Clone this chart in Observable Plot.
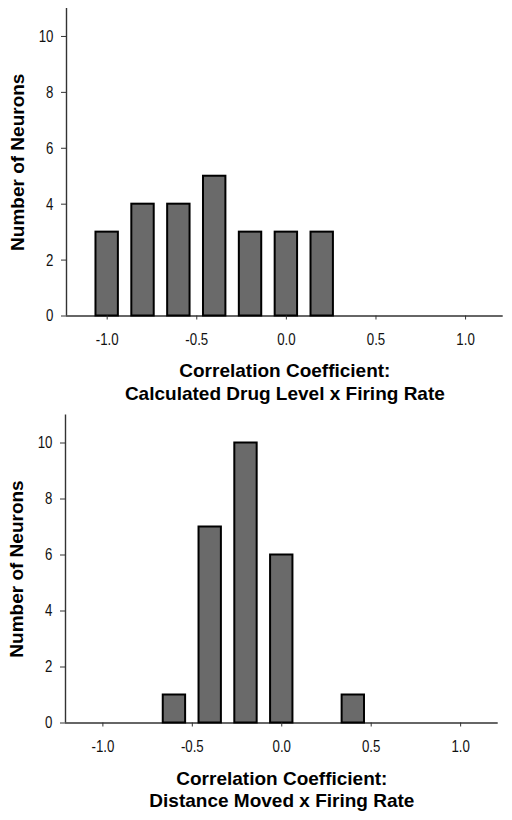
<!DOCTYPE html>
<html>
<head>
<meta charset="utf-8">
<script src="https://cdn.jsdelivr.net/npm/d3@7"></script>
<script src="https://cdn.jsdelivr.net/npm/@observablehq/plot@0.6"></script>
<style>
  html, body { margin: 0; padding: 0; background: #fff; }
  #chart svg { display: block; }
</style>
</head>
<body>
<div id="chart"></div>
<script>
// Bin centres of the correlation-coefficient histogram (bin width 0.2)
const binCenters = [-1.0, -0.8, -0.6, -0.4, -0.2, 0.0, 0.2, 0.4, 0.6, 0.8, 1.0];
// Number of neurons per bin
const drugLevelCounts = [3, 4, 4, 5, 3, 3, 3, 0, 0, 0, 0];
const distanceCounts  = [0, 0, 1, 7, 10, 6, 0, 1, 0, 0, 0];
// Axis ticks and labels
const xTicks = [-1.0, -0.5, 0.0, 0.5, 1.0];
const yTicks = [0, 2, 4, 6, 8, 10];
const xLabelLine1 = "Correlation Coefficient:";
const topXLabelLine2 = "Calculated Drug Level x Firing Rate";
const bottomXLabelLine2 = "Distance Moved x Firing Rate";
const yLabel = "Number of Neurons";
const barWidth = 0.125;

const tickFont = "'Liberation Sans', Arial, sans-serif";
const labelFont = "'Liberation Sans', Arial, sans-serif";

function histogram(counts, line2, o) {
  const data = binCenters.map((c, i) => ({center: c, n: counts[i]})).filter(d => d.n > 0);
  return Plot.plot({
    width: 512,
    height: o.height,
    marginLeft: o.ml,
    marginRight: o.mr,
    marginTop: o.mt,
    marginBottom: o.mb,
    style: {fontFamily: tickFont, fontSize: "17px", color: "#111", background: "#fff"},
    x: {domain: o.xDomain},
    y: {domain: [0, 11]},
    marks: [
      Plot.ruleY([0], {stroke: "#333", strokeWidth: 1.4}),
      Plot.ruleX([o.xDomain[0]], {y1: 0, y2: 11, stroke: "#333", strokeWidth: 1.4}),
      Plot.rectY(data, {
        x1: d => d.center - barWidth / 2,
        x2: d => d.center + barWidth / 2,
        y: "n",
        fill: "#6a6a6a",
        stroke: "#000",
        strokeWidth: 2
      }),
      Plot.axisX({ticks: xTicks, tickFormat: d => d.toFixed(1), tickSize: 4, tickPadding: 13, label: null, stroke: "#333", fontSize: 17}),
      Plot.axisY({ticks: yTicks, tickFormat: d => String(d), tickSize: 5, tickPadding: 8, label: null, stroke: "#333", fontSize: 17}),
      Plot.text([xLabelLine1], {frameAnchor: "bottom", lineAnchor: "bottom", dy: o.l1, fontFamily: labelFont, fontWeight: "bold", fontSize: 19, fill: "#000"}),
      Plot.text([line2], {frameAnchor: "bottom", lineAnchor: "bottom", dy: o.l2, fontFamily: labelFont, fontWeight: "bold", fontSize: 19, fill: "#000"}),
      Plot.text([yLabel], {frameAnchor: "left", textAnchor: "middle", lineAnchor: "middle", rotate: -90, dx: o.ydx, fontFamily: labelFont, fontWeight: "bold", fontSize: 19, fill: "#000"})
    ]
  });
}

const chart = document.getElementById("chart");
chart.appendChild(histogram(drugLevelCounts, topXLabelLine2, {
  height: 405, ml: 66, mr: 9.3, mt: 8, mb: 89.5, xDomain: [-1.227, 1.21], l1: 61, l2: 83.5, ydx: -49
}));
chart.appendChild(histogram(distanceCounts, bottomXLabelLine2, {
  height: 415, ml: 65, mr: 14.3, mt: 9.5, mb: 97.5, xDomain: [-1.209, 1.21], l1: 62, l2: 83.5, ydx: -49
}));

// Condense the tick labels (the original uses a narrow sans-serif face)
chart.querySelectorAll('g[aria-label$="tick label"] text').forEach(t => {
  const len = t.getComputedTextLength();
  if (len > 0) {
    t.setAttribute("textLength", (len * 0.78).toFixed(2));
    t.setAttribute("lengthAdjust", "spacingAndGlyphs");
  }
});
</script>
</body>
</html>
